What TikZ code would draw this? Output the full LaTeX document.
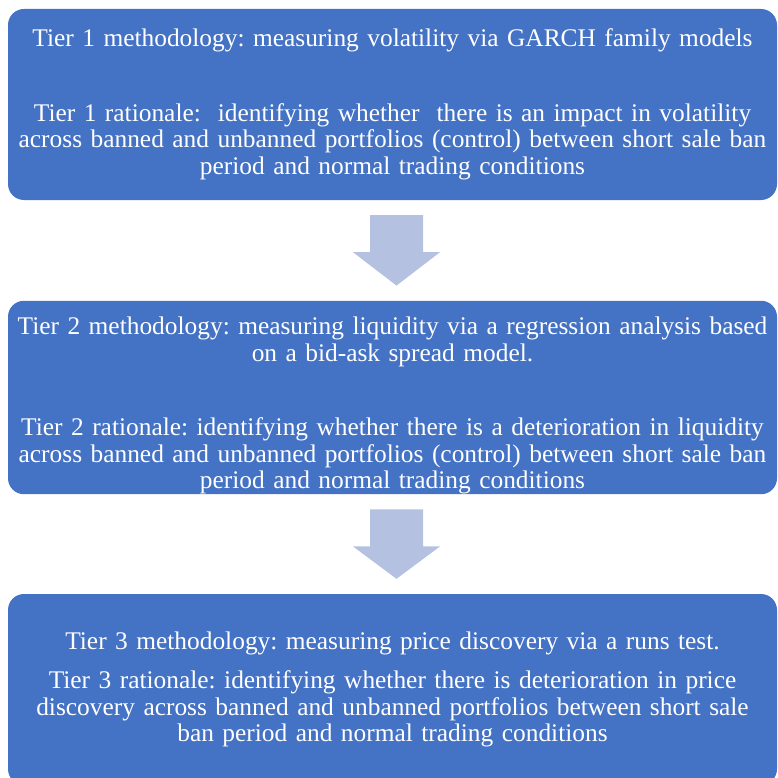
\documentclass[tikz,border=0pt]{standalone}
\usepackage{fontspec}
\setmainfont{Liberation Serif}
\usetikzlibrary{calc}
\definecolor{tierblue}{HTML}{4472C4}
\definecolor{arrowblue}{HTML}{B4C1E1}

\begin{document}
\frenchspacing
\begin{tikzpicture}[x=1pt,y=-1pt,
  tier/.style={fill=tierblue, rounded corners=16pt, minimum width=769pt, minimum height=191pt,
    text width=767pt, align=center, text=white, inner sep=0pt,
    font=\fontsize{25.4}{26.5}\selectfont},
  flowarrow/.style={fill=arrowblue}]
\useasboundingbox (0,0) rectangle (777,778);
% tiers
\node[tier] (T1) at (392.5,104.5) {Tier 1 methodology: measuring volatility via GARCH family models\\[48pt]
  Tier 1 rationale:~ identifying whether~ there is an impact in volatility\\
  across banned and unbanned portfolios (control) between short sale ban\\
  period and normal trading conditions};
\node[tier] (T2) at (392.5,397.5) {\rule{0pt}{34pt}Tier 2 methodology: measuring liquidity via a regression analysis based\\
  on a bid-ask spread model.\\[48pt]
  Tier 2 rationale: identifying whether there is a deterioration in liquidity\\
  across banned and unbanned portfolios (control) between short sale ban\\
  period and normal trading conditions};
\node[tier] (T3) at (392.5,689.5) {Tier 3 methodology: measuring price discovery via a runs test.\\[13pt]
  Tier 3 rationale: identifying whether there is deterioration in price\\
  discovery across banned and unbanned portfolios between short sale\\
  ban period and normal trading conditions};
% block arrows between tiers
\foreach \a/\b in {T1/T2,T2/T3}
  \fill[flowarrow] ($(\a.south)+(-22.5,15)$) -- ($(\a.south)+(30.5,15)$) -- ($(\a.south)+(30.5,52)$)
    -- ($(\a.south)+(47.5,52)$) -- ($(\b.north)+(4,-15)$) -- ($(\a.south)+(-39.5,52)$)
    -- ($(\a.south)+(-22.5,52)$) -- cycle;
\end{tikzpicture}
\end{document}
